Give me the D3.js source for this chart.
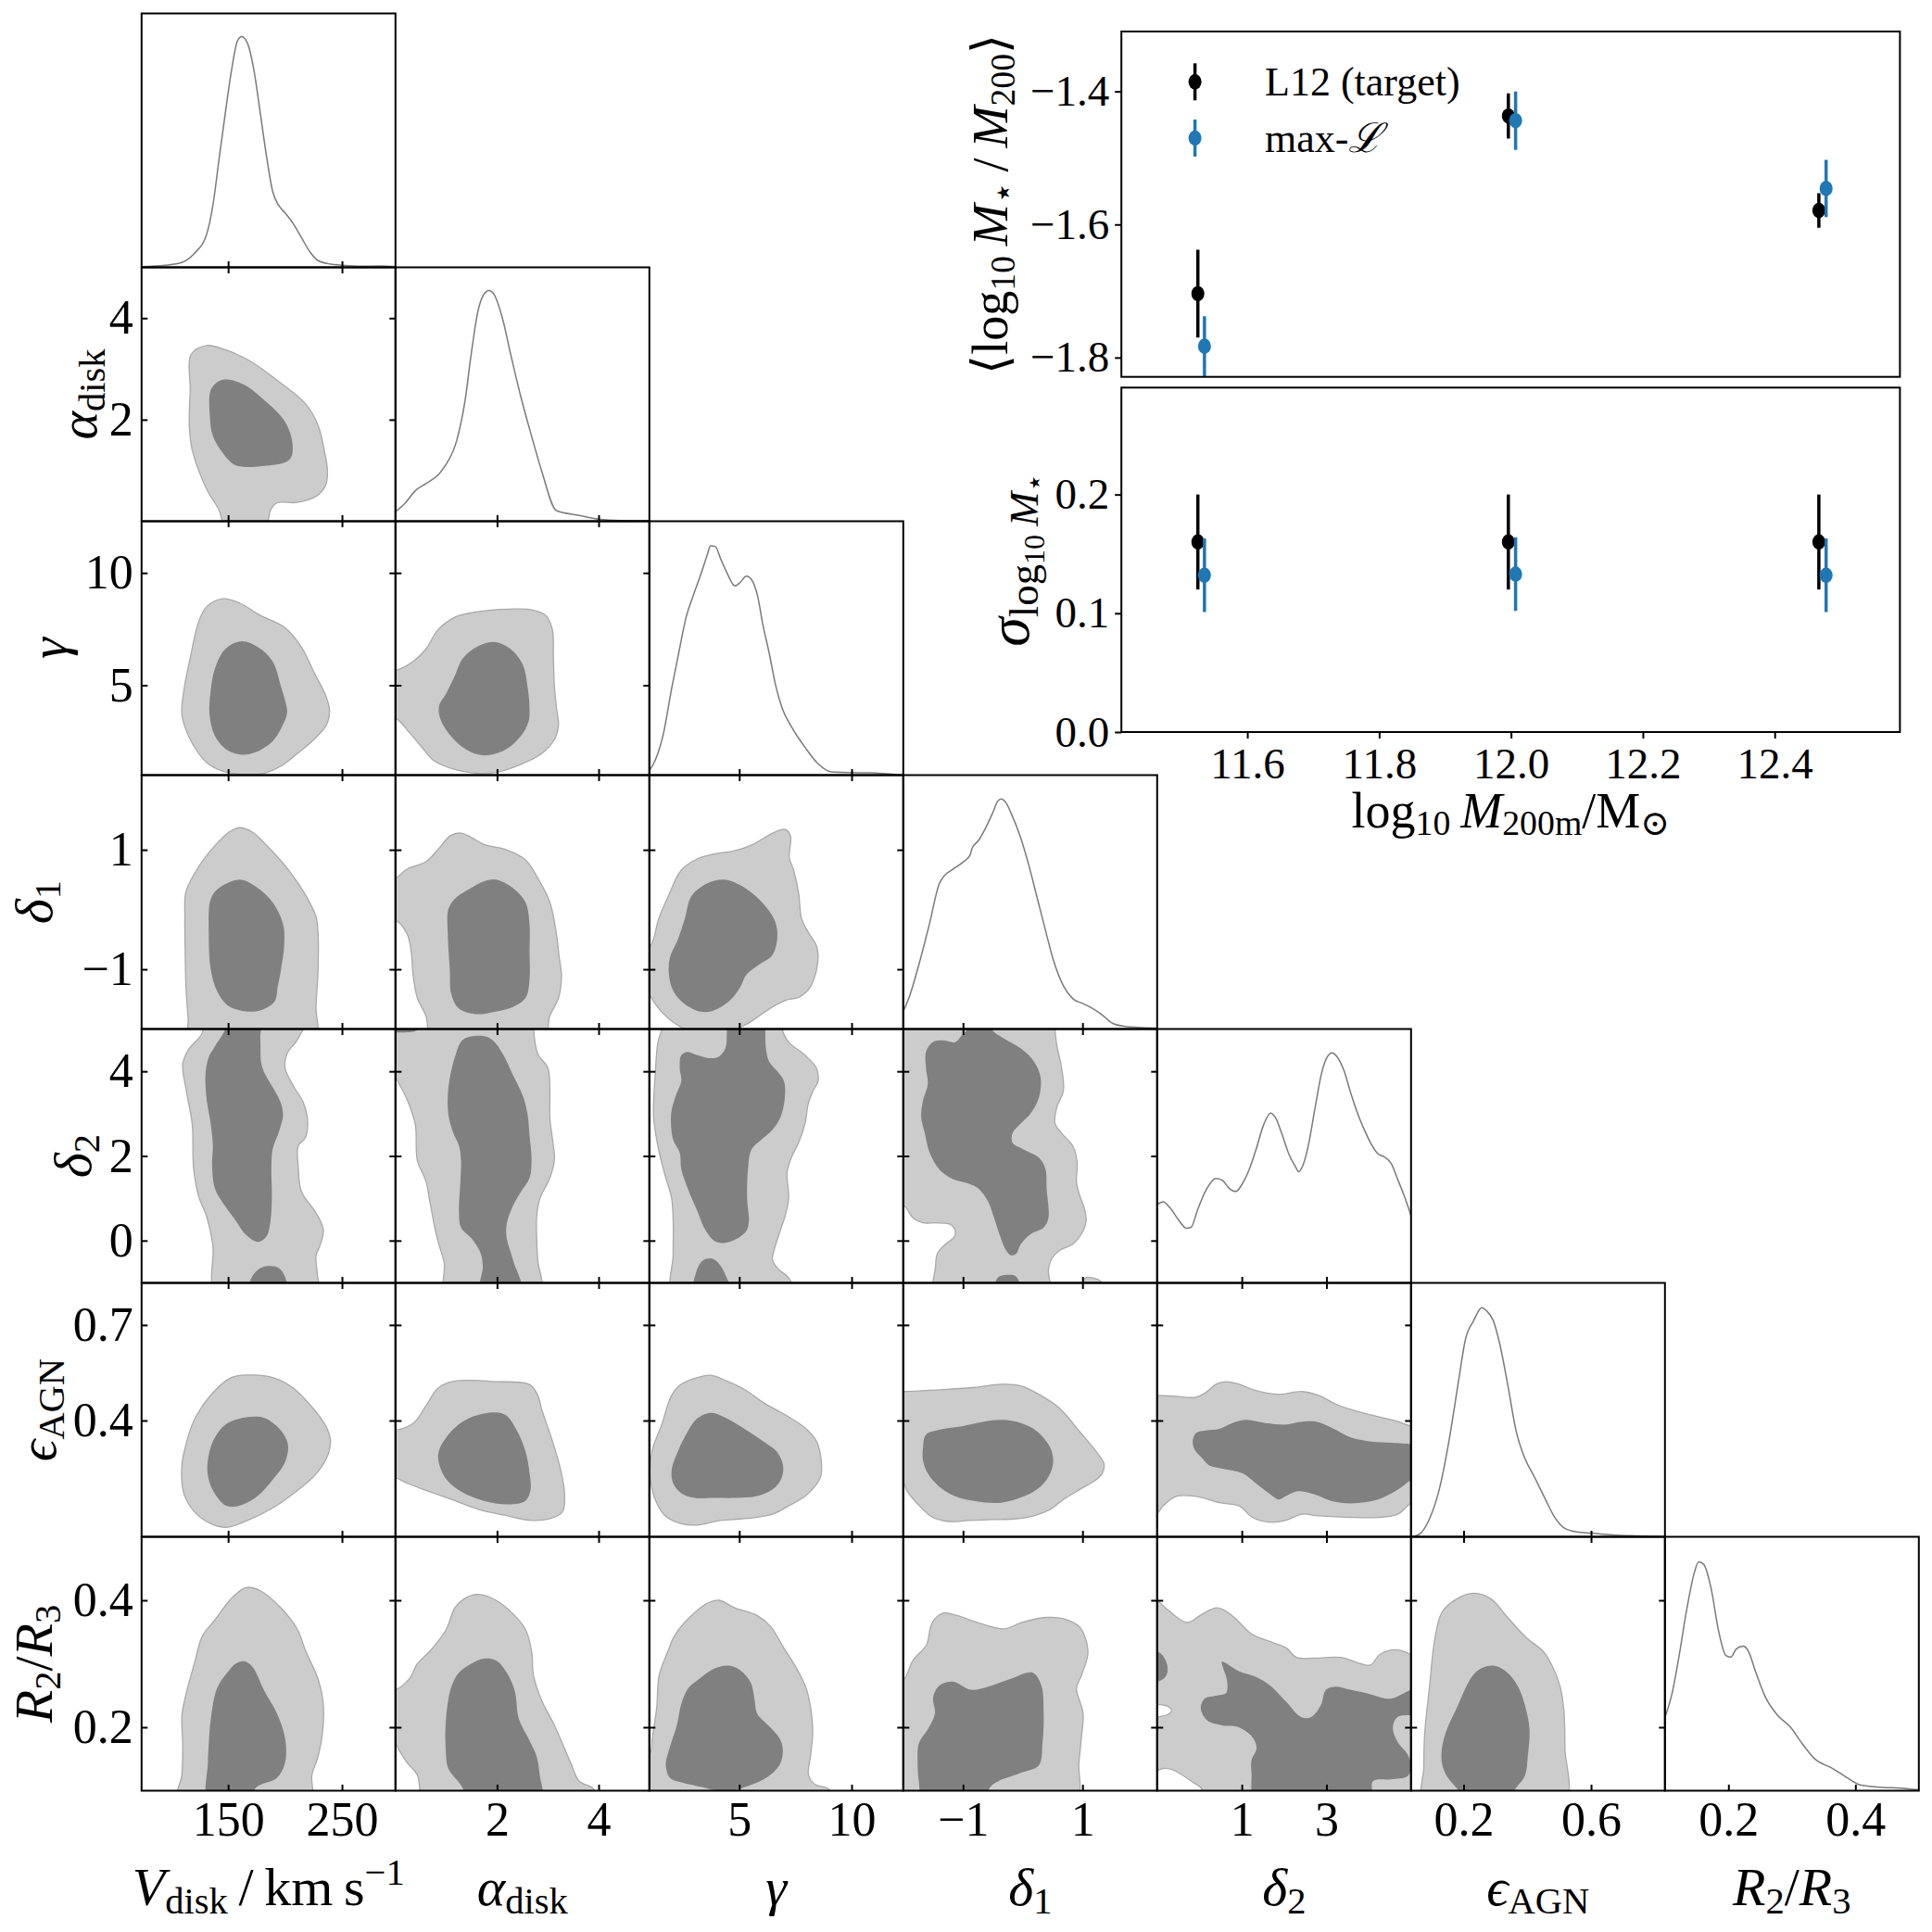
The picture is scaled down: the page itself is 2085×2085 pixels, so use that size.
<!DOCTYPE html>
<html><head><meta charset="utf-8">
<script src="https://cdn.jsdelivr.net/npm/d3@7"></script>
<style>
html,body{margin:0;padding:0;background:#fff;}
svg text{font-family:"Liberation Serif","DejaVu Serif",serif;white-space:pre;}
</style></head><body>
<svg id="c" width="2085" height="2085" xmlns="http://www.w3.org/2000/svg"></svg>
<script>
// ---------------- DATA ----------------
const params = ["Vdisk","alpha_disk","gamma","delta1","delta2","eps_AGN","R2_R3"];
const domains = [[74,297],[0,5],[1,12.3],[-2,2.25],[-1,5],[0.035,0.832],[0.1,0.5]];
const xTicks = [[150,250],[2,4],[5,10],[-1,1],[1,3],[0.2,0.6],[0.2,0.4]];
const yTicks = [null,[2,4],[5,10],[-1,1],[0,2,4],[0.4,0.7],[0.2,0.4]];
const tickFormats = ["d","d","d","d","d",".1f",".1f"];

// 1D marginals: [value, normalised density]
const M_V = [[73.9,0.003],[94.9,0.009],[109.4,0.021],[120.3,0.06],[131.2,0.144],[136.6,0.267],[142.0,0.467],[147.5,0.667],[152.9,0.851],[158.3,0.982],[162.0,1.0],[167.4,0.966],[172.8,0.851],[178.3,0.667],[183.7,0.482],[189.1,0.329],[194.6,0.267],[200.0,0.236],[207.2,0.189],[214.5,0.128],[221.7,0.068],[229.0,0.029],[239.9,0.014],[250.7,0.009],[265.2,0.005],[283.3,0.006],[296.7,0.003]];
const M_a = [[0.0,0.040],[0.19,0.078],[0.39,0.132],[0.60,0.163],[0.84,0.201],[1.00,0.247],[1.21,0.353],[1.37,0.522],[1.49,0.722],[1.62,0.906],[1.74,0.983],[1.84,1.0],[1.94,0.983],[2.11,0.876],[2.27,0.722],[2.47,0.538],[2.68,0.369],[2.88,0.217],[3.17,0.046],[3.62,0.025],[4.00,0.009],[4.43,0.003],[4.99,0.002]];
const M_g = [[1.01,0.021],[1.26,0.064],[1.62,0.177],[1.99,0.375],[2.28,0.516],[2.64,0.686],[2.93,0.772],[3.29,0.870],[3.58,0.955],[3.72,0.994],[3.94,0.990],[4.16,0.940],[4.45,0.877],[4.81,0.820],[5.03,0.834],[5.32,0.862],[5.54,0.848],[5.83,0.770],[6.04,0.657],[6.33,0.530],[6.62,0.389],[6.91,0.290],[7.35,0.205],[7.93,0.120],[8.51,0.049],[9.09,0.014],[10.0,0.011],[10.83,0.010],[12.29,0.0]];
const M_d1 = [[-1.99,0.082],[-1.89,0.146],[-1.73,0.287],[-1.56,0.457],[-1.40,0.627],[-1.32,0.662],[-1.18,0.690],[-0.99,0.725],[-0.88,0.754],[-0.85,0.782],[-0.74,0.817],[-0.63,0.867],[-0.50,0.938],[-0.42,0.987],[-0.36,0.997],[-0.28,0.980],[-0.20,0.938],[-0.03,0.825],[0.10,0.711],[0.24,0.570],[0.38,0.428],[0.51,0.301],[0.68,0.187],[0.84,0.131],[1.01,0.110],[1.17,0.089],[1.33,0.061],[1.50,0.025],[1.72,0.011],[1.93,0.007],[2.25,0.004]];
const M_d2 = [[-1.0,0.340],[-0.86,0.351],[-0.70,0.326],[-0.51,0.277],[-0.31,0.237],[-0.20,0.241],[-0.04,0.319],[0.16,0.404],[0.39,0.453],[0.55,0.443],[0.70,0.410],[0.86,0.396],[1.02,0.432],[1.17,0.489],[1.33,0.574],[1.52,0.687],[1.68,0.736],[1.80,0.715],[1.95,0.644],[2.11,0.559],[2.27,0.503],[2.34,0.482],[2.46,0.517],[2.58,0.602],[2.73,0.757],[2.89,0.912],[3.01,0.976],[3.13,0.997],[3.24,0.983],[3.40,0.927],[3.59,0.814],[3.75,0.728],[3.91,0.658],[4.06,0.601],[4.22,0.559],[4.38,0.545],[4.53,0.517],[4.69,0.446],[4.84,0.376],[5.0,0.291]];
const M_e = [[0.035,0.0],[0.061,0.011],[0.092,0.075],[0.123,0.202],[0.154,0.415],[0.185,0.683],[0.205,0.851],[0.231,0.935],[0.257,0.993],[0.272,0.979],[0.293,0.937],[0.313,0.838],[0.339,0.655],[0.365,0.457],[0.391,0.344],[0.422,0.260],[0.453,0.173],[0.484,0.089],[0.514,0.040],[0.556,0.021],[0.600,0.016],[0.669,0.008],[0.742,0.004],[0.829,0.001]];
const M_R = [[0.101,0.325],[0.111,0.419],[0.122,0.580],[0.134,0.780],[0.146,0.942],[0.153,0.992],[0.161,0.981],[0.173,0.873],[0.184,0.699],[0.196,0.586],[0.204,0.579],[0.212,0.613],[0.223,0.626],[0.231,0.607],[0.243,0.514],[0.258,0.407],[0.278,0.325],[0.297,0.278],[0.316,0.205],[0.336,0.138],[0.363,0.098],[0.386,0.058],[0.409,0.024],[0.440,0.015],[0.471,0.011],[0.500,0.004]];

// 2D credible-region outlines (light = outer level, dark = inner level), [x value, y value]
const L_a_V = [[117.4,3.28],[131.2,3.46],[145.7,3.39],[167.4,3.18],[196.4,2.72],[218.1,2.31],[229.0,1.89],[234.4,1.40],[237.3,0.98],[235.5,0.70],[227.2,0.49],[210.9,0.37],[192.8,0.36],[187.3,0.22],[181.9,-0.15],[148.6,-0.15],[142.0,0.22],[131.2,0.63],[118.5,1.40],[115.9,1.89],[116.7,2.59]];
const D_a_V = [[134.8,2.59],[142.0,2.76],[149.3,2.79],[163.8,2.69],[181.9,2.38],[200.0,1.96],[206.5,1.54],[205.4,1.26],[200.0,1.16],[181.9,1.09],[163.8,1.07],[154.7,1.12],[145.7,1.33],[136.6,1.68],[134.1,2.03]];
const L_g_V = [[123.9,7.79],[131.2,8.50],[145.7,8.85],[160.1,8.66],[178.3,8.11],[200.0,7.56],[214.5,6.69],[225.4,5.58],[236.2,4.48],[239.1,3.85],[236.2,3.22],[225.4,2.59],[210.9,1.96],[196.4,1.40],[181.9,1.09],[160.1,1.04],[145.7,1.17],[131.2,1.56],[116.7,2.59],[109.4,3.69],[111.2,4.79],[116.7,6.21]];
const D_g_V = [[138.4,5.74],[147.5,6.61],[162.0,6.96],[176.4,6.69],[189.1,6.06],[196.4,4.95],[200.0,4.32],[201.8,3.77],[196.4,3.06],[189.1,2.51],[174.6,2.03],[162.0,1.91],[149.3,2.11],[138.4,2.74],[133.7,3.69],[134.8,4.79]];
const L_g_a = [[-0.3,5.66],[0.0,5.66],[0.35,6.06],[0.60,6.61],[0.84,7.48],[1.17,8.03],[1.58,8.26],[2.23,8.39],[2.72,8.34],[2.96,8.11],[3.09,7.48],[3.11,6.21],[3.13,4.95],[3.17,4.01],[3.21,3.22],[3.13,2.59],[2.88,1.96],[2.47,1.48],[1.98,1.12],[1.58,1.09],[1.17,1.25],[0.76,1.64],[0.51,2.27],[0.27,2.90],[0.0,3.53],[-0.3,3.53]];
const D_g_a = [[1.00,4.64],[1.17,5.43],[1.33,6.21],[1.66,6.77],[1.98,6.92],[2.31,6.53],[2.51,5.90],[2.60,4.95],[2.64,4.01],[2.62,3.38],[2.47,2.74],[2.15,2.11],[1.74,1.88],[1.41,2.11],[1.09,2.74],[0.88,3.53],[0.86,4.09]];
const L_d1_V = [[112.0,-0.12],[113.0,0.30],[123.9,0.71],[138.4,1.07],[151.1,1.30],[160.1,1.37],[171.0,1.30],[185.5,1.04],[203.6,0.65],[218.1,0.24],[227.2,-0.12],[229.0,-0.41],[229.0,-1.01],[227.2,-1.60],[225.4,-2.31],[116.7,-2.31],[114.9,-1.83],[113.0,-1.30],[112.3,-0.71]];
const D_d1_V = [[134.8,0.18],[142.0,0.36],[160.1,0.50],[174.6,0.38],[189.1,0.12],[198.2,-0.24],[199.3,-0.59],[196.4,-1.01],[193.5,-1.30],[190.9,-1.54],[178.3,-1.69],[163.8,-1.70],[149.3,-1.60],[140.2,-1.36],[134.8,-1.01],[133.0,-0.41]];
const L_d1_a = [[-0.3,0.53],[0.0,0.53],[0.23,0.68],[0.60,0.80],[0.84,1.01],[1.09,1.24],[1.29,1.28],[1.49,1.21],[1.74,1.09],[2.15,1.01],[2.56,0.83],[2.80,0.53],[3.04,0.12],[3.17,-0.41],[3.22,-0.77],[3.27,-1.12],[3.21,-1.48],[3.04,-1.78],[2.88,-2.31],[0.76,-2.31],[0.60,-1.78],[0.43,-1.48],[0.35,-1.12],[0.31,-0.71],[0.23,-0.41],[0.0,-0.18],[-0.3,-0.18]];
const D_d1_a = [[1.04,0.0],[1.17,0.18],[1.49,0.36],[1.74,0.47],[1.98,0.50],[2.31,0.36],[2.56,0.12],[2.64,-0.24],[2.64,-0.71],[2.64,-1.18],[2.56,-1.48],[2.31,-1.63],[1.90,-1.72],[1.58,-1.75],[1.25,-1.66],[1.10,-1.42],[1.07,-1.01],[1.03,-0.41]];
const L_d1_g = [[1.84,0.22],[2.42,0.66],[3.14,0.85],[3.87,0.93],[4.74,0.98],[5.61,1.09],[6.48,1.28],[7.06,1.34],[7.28,1.23],[7.23,0.87],[7.42,0.66],[7.64,0.28],[7.78,-0.16],[8.07,-0.38],[8.43,-0.60],[8.51,-0.76],[8.43,-1.03],[8.14,-1.31],[7.64,-1.47],[7.06,-1.52],[6.48,-1.63],[6.04,-1.74],[5.32,-1.92],[4.45,-2.05],[3.58,-2.08],[2.71,-2.02],[1.84,-1.82],[1.26,-1.58],[0.9,-1.31],[0.9,-0.76],[1.19,-0.49],[1.41,-0.16]];
const D_d1_g = [[2.57,-0.16],[2.86,0.22],[3.43,0.41],[4.30,0.50],[5.17,0.38],[6.04,0.11],[6.55,-0.16],[6.70,-0.43],[6.48,-0.76],[5.90,-0.92],[5.32,-1.09],[5.03,-1.31],[4.59,-1.52],[3.87,-1.69],[3.29,-1.71],[2.57,-1.58],[2.06,-1.36],[1.87,-1.09],[1.91,-0.81],[2.28,-0.49]];
const L_d2_V = [[218.1,5.3],[210.9,4.75],[201.8,4.42],[200.0,4.08],[207.2,3.66],[216.3,3.25],[219.9,2.74],[217.4,2.41],[211.6,2.24],[211.6,1.74],[214.5,1.15],[225.4,0.73],[230.8,0.48],[233.7,0.23],[230.8,-0.11],[227.2,-0.36],[228.3,-0.78],[228.3,-1.3],[140.2,-1.3],[136.6,-0.11],[131.2,0.56],[123.9,1.06],[119.6,1.74],[118.5,2.74],[113.0,3.58],[110.1,4.17],[114.9,4.50],[127.5,4.92],[127.5,5.3]];
const D_d2_V = [[147.5,5.3],[147.5,5.01],[138.4,4.59],[133.0,4.34],[130.1,3.92],[131.2,3.33],[134.8,2.74],[136.6,2.24],[135.9,1.82],[138.4,1.23],[147.5,0.81],[156.5,0.48],[165.6,0.14],[176.4,-0.03],[183.7,0.10],[187.3,0.48],[188.4,1.06],[188.0,1.74],[189.1,2.16],[194.6,2.57],[198.2,2.95],[196.4,3.25],[191.0,3.54],[183.7,3.87],[179.3,4.17],[178.3,4.75],[177.2,5.3]];
const D_d2_V_b = [[167.4,-1.3],[171.0,-0.86],[178.3,-0.65],[187.3,-0.60],[194.6,-0.65],[200.0,-0.86],[201.8,-1.3]];
const L_d2_a = [[-0.3,5.3],[2.72,5.3],[2.72,5.01],[2.80,4.42],[3.00,4.08],[3.04,3.58],[3.04,2.91],[3.09,2.41],[3.13,1.90],[3.04,1.48],[2.84,0.98],[2.78,0.56],[2.78,0.06],[2.80,-0.44],[2.84,-1.3],[1.00,-1.3],[0.96,-0.53],[0.84,-0.03],[0.76,0.39],[0.68,0.90],[0.60,1.40],[0.43,1.90],[0.39,2.74],[0.23,3.33],[0.02,3.83],[0.0,3.92],[-0.3,3.92]];
const D_d2_a = [[1.17,4.34],[1.33,4.75],[1.66,4.84],[1.90,4.75],[2.11,4.42],[2.31,3.92],[2.51,3.41],[2.60,2.99],[2.64,2.49],[2.68,1.90],[2.64,1.48],[2.47,1.15],[2.31,0.81],[2.19,0.39],[2.19,0.06],[2.31,-0.44],[2.49,-1.3],[1.67,-1.3],[1.72,-0.61],[1.67,-0.28],[1.49,0.06],[1.29,0.31],[1.25,0.73],[1.27,1.23],[1.29,1.90],[1.25,2.24],[1.13,2.57],[1.04,2.99],[1.04,3.58]];
const D_d2_a_b = [[-0.3,5.3],[0.51,5.3],[0.43,4.98],[0.19,4.92],[0.0,4.92],[-0.3,4.92]];
const L_d2_g = [[1.55,5.3],[6.91,5.3],[6.91,5.0],[7.20,4.69],[7.93,4.38],[8.43,4.08],[8.51,3.77],[8.29,3.54],[8.07,3.23],[7.93,2.77],[7.64,2.31],[7.35,2.0],[7.13,1.62],[7.20,1.0],[7.06,0.62],[6.77,0.15],[6.55,-0.23],[6.48,-0.46],[6.77,-0.69],[7.20,-0.88],[7.42,-1.3],[2.10,-1.3],[2.06,-0.31],[2.06,0.46],[1.99,1.0],[1.70,1.54],[1.41,2.15],[1.19,2.92],[1.26,3.92],[1.38,4.69],[1.55,5.0]];
const D_d2_g = [[4.45,5.3],[4.45,5.0],[4.38,4.54],[4.09,4.35],[3.72,4.31],[3.14,4.38],[2.71,4.46],[2.42,4.38],[2.35,4.08],[2.42,3.77],[2.20,3.46],[1.99,3.08],[1.96,2.77],[2.06,2.38],[2.35,2.08],[2.42,1.69],[2.71,1.23],[3.14,0.69],[3.43,0.31],[3.87,0.0],[4.23,-0.06],[4.88,0.04],[5.32,0.23],[5.43,0.46],[5.35,1.0],[5.39,1.69],[5.54,2.15],[5.97,2.38],[6.48,2.62],[6.84,2.92],[7.03,3.38],[6.99,3.77],[6.70,4.0],[6.33,4.23],[6.19,4.54],[6.16,5.0],[6.16,5.3]];
const D_d2_g_b = [[3.0,-1.3],[3.07,-0.77],[3.36,-0.48],[3.75,-0.42],[4.09,-0.54],[4.42,-0.85],[4.67,-1.3]];
const L_d2_d1 = [[-2.15,5.3],[0.54,5.3],[0.54,5.0],[0.57,4.62],[0.65,4.08],[0.68,3.54],[0.57,3.15],[0.54,2.77],[0.65,2.54],[0.84,2.23],[0.91,1.85],[0.90,1.38],[0.95,1.08],[1.03,0.77],[1.06,0.46],[0.98,0.15],[0.84,-0.08],[0.62,-0.23],[0.49,-0.42],[0.43,-0.69],[0.43,-1.3],[-1.46,-1.3],[-1.46,-0.62],[-1.43,-0.31],[-1.29,-0.08],[-1.15,0.08],[-1.13,0.23],[-1.21,0.38],[-1.45,0.42],[-1.67,0.42],[-1.84,0.54],[-1.95,0.77],[-2.15,1.08]];
const L_d2_d1_b = [[1.01,-1.3],[1.04,-0.89],[1.17,-0.88],[1.31,-0.97],[1.34,-1.3]];
const D_d2_d1 = [[-1.62,4.46],[-1.51,4.69],[-1.34,4.73],[-1.13,4.69],[-1.02,4.85],[-0.93,5.0],[-0.93,5.3],[-0.52,5.3],[-0.52,5.0],[-0.31,4.77],[-0.03,4.54],[0.19,4.23],[0.30,3.85],[0.27,3.38],[0.13,3.0],[-0.03,2.77],[-0.17,2.54],[-0.17,2.31],[0.02,2.15],[0.27,1.96],[0.38,1.69],[0.40,1.23],[0.43,0.54],[0.35,0.31],[0.13,0.15],[-0.03,-0.08],[-0.11,-0.31],[-0.20,-0.35],[-0.28,-0.23],[-0.39,0.15],[-0.50,0.62],[-0.58,0.92],[-0.74,1.23],[-0.91,1.35],[-1.18,1.46],[-1.40,1.69],[-1.56,2.08],[-1.64,2.54],[-1.70,2.92],[-1.67,3.31],[-1.59,3.69],[-1.62,4.08]];
const D_d2_d1_b = [[-0.47,-1.3],[-0.42,-0.88],[-0.25,-0.81],[-0.11,-0.85],[-0.03,-1.3]];
const L_e_V = [[109.4,0.258],[113.0,0.325],[120.3,0.402],[134.8,0.480],[152.9,0.535],[171.0,0.543],[189.1,0.535],[207.2,0.502],[225.4,0.435],[236.2,0.380],[239.9,0.336],[236.2,0.280],[225.4,0.225],[207.2,0.170],[189.1,0.125],[167.4,0.087],[149.3,0.065],[134.8,0.076],[120.3,0.114],[111.2,0.170]];
const D_e_V = [[133.0,0.292],[138.4,0.347],[149.3,0.391],[167.4,0.411],[181.9,0.408],[196.4,0.369],[202.5,0.325],[200.0,0.269],[189.1,0.214],[174.6,0.159],[158.3,0.131],[147.5,0.134],[136.6,0.181],[131.9,0.236]];
const L_e_a = [[-0.3,0.369],[0.0,0.369],[0.35,0.391],[0.60,0.446],[0.84,0.502],[1.17,0.524],[1.98,0.522],[2.64,0.513],[2.80,0.480],[2.88,0.435],[3.09,0.336],[3.25,0.247],[3.33,0.170],[3.29,0.114],[3.04,0.092],[2.64,0.087],[2.15,0.103],[1.66,0.120],[1.09,0.153],[0.60,0.181],[0.23,0.203],[0.0,0.220],[-0.3,0.220]];
const D_e_a = [[0.84,0.292],[1.00,0.347],[1.33,0.397],[1.74,0.422],[2.15,0.419],[2.39,0.369],[2.56,0.303],[2.64,0.236],[2.66,0.181],[2.56,0.148],[2.23,0.137],[1.74,0.148],[1.25,0.181],[0.96,0.225]];
const L_e_g = [[1.04,0.223],[1.12,0.305],[1.55,0.387],[1.99,0.479],[2.42,0.514],[3.14,0.535],[3.72,0.542],[4.45,0.524],[5.32,0.494],[6.04,0.458],[7.06,0.417],[7.93,0.377],[8.43,0.336],[8.65,0.274],[8.62,0.223],[8.36,0.193],[7.93,0.162],[7.20,0.132],[6.48,0.106],[5.75,0.096],[5.03,0.091],[4.16,0.086],[3.14,0.072],[2.42,0.076],[1.70,0.101],[1.26,0.152]];
const D_e_g = [[1.99,0.244],[2.28,0.305],[2.71,0.366],[3.14,0.407],[3.72,0.424],[4.30,0.412],[5.17,0.377],[6.04,0.336],[6.70,0.300],[6.96,0.254],[6.84,0.213],[6.48,0.183],[5.75,0.162],[4.88,0.157],[3.87,0.157],[3.0,0.157],[2.42,0.172],[2.06,0.203]];
const L_e_d1 = [[-2.15,0.491],[-1.99,0.491],[-1.34,0.497],[-0.80,0.504],[-0.36,0.514],[-0.03,0.509],[0.30,0.479],[0.62,0.438],[0.95,0.366],[1.22,0.305],[1.36,0.264],[1.33,0.234],[1.22,0.213],[0.95,0.183],[0.68,0.152],[0.46,0.121],[0.19,0.101],[-0.14,0.091],[-0.52,0.089],[-0.91,0.086],[-1.23,0.083],[-1.51,0.096],[-1.78,0.142],[-1.95,0.183],[-1.99,0.203],[-2.15,0.203]];
const D_e_d1 = [[-1.67,0.315],[-1.62,0.356],[-1.40,0.371],[-1.02,0.382],[-0.69,0.395],[-0.36,0.402],[-0.03,0.392],[0.24,0.366],[0.46,0.315],[0.51,0.274],[0.46,0.234],[0.30,0.193],[0.02,0.162],[-0.36,0.142],[-0.80,0.147],[-1.13,0.162],[-1.40,0.193],[-1.59,0.234],[-1.67,0.274]];
const L_e_d2 = [[-1.2,0.479],[-1.02,0.479],[-0.63,0.477],[-0.08,0.473],[0.16,0.489],[0.39,0.514],[0.63,0.522],[0.94,0.514],[1.33,0.494],[1.88,0.482],[2.42,0.491],[2.81,0.479],[3.28,0.448],[3.75,0.428],[4.22,0.412],[4.69,0.397],[5.02,0.382],[5.2,0.382],[5.2,0.142],[5.02,0.142],[4.69,0.106],[4.22,0.096],[3.59,0.096],[2.81,0.101],[2.42,0.106],[2.03,0.086],[1.64,0.081],[1.25,0.096],[0.94,0.132],[0.47,0.142],[-0.08,0.162],[-0.55,0.162],[-0.86,0.132],[-1.02,0.106],[-1.2,0.106]];
const D_e_d2 = [[-0.16,0.336],[-0.08,0.361],[0.16,0.369],[0.47,0.374],[0.78,0.392],[1.09,0.402],[1.56,0.392],[2.03,0.387],[2.34,0.395],[2.73,0.397],[3.13,0.377],[3.59,0.346],[4.06,0.334],[4.53,0.330],[5.02,0.326],[5.2,0.326],[5.2,0.213],[5.02,0.213],[4.69,0.183],[4.22,0.152],[3.59,0.140],[3.13,0.147],[2.73,0.167],[2.34,0.178],[2.03,0.162],[1.88,0.152],[1.64,0.172],[1.33,0.203],[1.02,0.234],[0.55,0.249],[0.23,0.259],[0.04,0.285],[-0.12,0.310]];
const L_R_V = [[105.8,0.08],[109.4,0.125],[110.1,0.174],[109.4,0.218],[113.0,0.252],[120.3,0.300],[127.5,0.344],[138.4,0.369],[152.9,0.403],[165.6,0.420],[178.3,0.415],[196.4,0.388],[210.9,0.354],[218.1,0.320],[229.0,0.276],[233.3,0.242],[233.3,0.198],[229.0,0.154],[223.6,0.125],[221.7,0.08]];
const D_R_V = [[133.0,0.08],[132.2,0.144],[133.0,0.174],[134.8,0.213],[140.2,0.261],[149.3,0.286],[156.5,0.300],[163.8,0.304],[171.0,0.296],[181.9,0.257],[192.8,0.222],[200.0,0.183],[200.0,0.144],[192.8,0.120],[174.6,0.105],[167.4,0.08]];
const L_R_a = [[-0.3,0.259],[0.0,0.259],[0.27,0.276],[0.43,0.300],[0.68,0.320],[1.00,0.354],[1.17,0.388],[1.41,0.405],[1.66,0.409],[1.98,0.400],[2.31,0.379],[2.56,0.354],[2.68,0.320],[2.72,0.281],[2.88,0.242],[3.13,0.203],[3.29,0.174],[3.45,0.144],[3.62,0.115],[3.90,0.103],[3.94,0.08],[0.60,0.08],[0.43,0.125],[0.23,0.144],[0.07,0.164],[0.0,0.174],[-0.3,0.174]];
const D_R_a = [[0.99,0.164],[0.99,0.208],[1.09,0.261],[1.25,0.286],[1.49,0.300],[1.74,0.308],[1.98,0.305],[2.19,0.286],[2.35,0.257],[2.43,0.213],[2.64,0.179],[2.78,0.154],[2.84,0.125],[2.87,0.08],[1.58,0.08],[1.25,0.113],[1.04,0.135]];
const L_R_g = [[0.6,0.154],[1.03,0.159],[1.13,0.183],[1.33,0.232],[1.43,0.281],[1.83,0.320],[2.12,0.344],[2.82,0.374],[3.61,0.396],[4.11,0.400],[4.80,0.388],[5.79,0.376],[6.39,0.359],[6.98,0.325],[7.58,0.291],[7.98,0.261],[8.17,0.232],[8.27,0.193],[8.17,0.154],[8.08,0.125],[8.37,0.110],[8.97,0.103],[9.27,0.08],[0.6,0.08]];
const D_R_g = [[1.73,0.140],[1.83,0.159],[2.22,0.203],[2.42,0.237],[2.72,0.261],[3.21,0.276],[3.81,0.291],[4.50,0.297],[5.0,0.291],[5.50,0.271],[5.69,0.242],[5.79,0.222],[6.29,0.203],[6.79,0.183],[6.94,0.164],[6.79,0.140],[6.19,0.120],[5.20,0.105],[4.40,0.098],[3.41,0.105],[2.42,0.113],[1.92,0.120]];
const L_R_d1 = [[-2.15,0.276],[-1.99,0.276],[-1.84,0.305],[-1.61,0.330],[-1.54,0.359],[-1.47,0.371],[-1.32,0.380],[-1.10,0.376],[-0.73,0.364],[-0.32,0.355],[0.01,0.366],[0.39,0.373],[0.68,0.371],[0.94,0.359],[1.05,0.340],[1.09,0.315],[0.98,0.281],[0.90,0.261],[1.01,0.222],[0.98,0.183],[0.94,0.144],[0.87,0.08],[-2.15,0.08]];
const D_R_d1 = [[-1.76,0.144],[-1.74,0.174],[-1.58,0.198],[-1.47,0.222],[-1.50,0.247],[-1.39,0.266],[-1.17,0.272],[-0.87,0.259],[-0.58,0.264],[-0.21,0.276],[0.16,0.286],[0.31,0.266],[0.35,0.222],[0.33,0.174],[0.27,0.140],[-0.06,0.127],[-0.50,0.110],[-0.73,0.08],[-1.65,0.08],[-1.74,0.115]];
const L_R_d2 = [[-1.2,0.4],[-1.02,0.4],[-0.75,0.385],[-0.29,0.365],[0.06,0.378],[0.42,0.388],[0.77,0.376],[1.23,0.347],[1.70,0.334],[2.05,0.325],[2.29,0.310],[2.75,0.309],[3.34,0.310],[3.81,0.300],[4.04,0.298],[4.27,0.315],[4.63,0.322],[4.92,0.317],[5.02,0.313],[5.2,0.313],[5.2,0.08],[0.06,0.08],[0.06,0.102],[-0.17,0.114],[-0.64,0.133],[-0.87,0.135],[-1.02,0.131],[-1.2,0.131]];
const H_R_d2 = [[-1.2,0.235],[-1.02,0.236],[-0.75,0.233],[-0.66,0.226],[-0.75,0.220],[-1.02,0.216],[-1.2,0.216]];
const D_R_d2_a = [[-1.2,0.320],[-1.02,0.320],[-0.87,0.313],[-0.75,0.293],[-0.81,0.279],[-1.02,0.271],[-1.2,0.271]];
const D_R_d2 = [[0.53,0.303],[0.94,0.288],[1.35,0.279],[1.70,0.264],[2.05,0.240],[2.40,0.216],[2.64,0.216],[2.87,0.235],[2.99,0.259],[3.22,0.264],[3.57,0.259],[4.04,0.252],[4.51,0.245],[5.02,0.259],[5.2,0.259],[5.2,0.220],[5.02,0.219],[4.68,0.216],[4.57,0.199],[4.68,0.177],[4.92,0.157],[5.0,0.138],[4.92,0.123],[4.51,0.118],[4.10,0.115],[4.04,0.08],[1.35,0.08],[1.23,0.128],[1.23,0.148],[1.35,0.167],[1.23,0.186],[0.88,0.201],[0.53,0.203],[0.18,0.211],[0.03,0.230],[0.12,0.245],[0.42,0.250],[0.63,0.254],[0.65,0.274],[0.56,0.293]];
const L_R_e = [[0.078,0.08],[0.075,0.138],[0.078,0.191],[0.093,0.264],[0.109,0.337],[0.132,0.381],[0.178,0.402],[0.232,0.411],[0.286,0.402],[0.333,0.376],[0.395,0.342],[0.449,0.320],[0.472,0.303],[0.503,0.264],[0.515,0.225],[0.518,0.167],[0.515,0.08]];
const D_R_e = [[0.132,0.167],[0.147,0.196],[0.178,0.230],[0.225,0.279],[0.256,0.293],[0.294,0.297],[0.333,0.288],[0.371,0.264],[0.395,0.230],[0.407,0.196],[0.402,0.157],[0.392,0.123],[0.364,0.104],[0.333,0.08],[0.209,0.08],[0.178,0.104],[0.147,0.123],[0.132,0.143]];

// Inset data
const haloMass_L12 = [11.525, 11.996, 12.467];
const haloMass_maxL = [11.535, 12.007, 12.478];
const meanRatio_L12 = [-1.704, -1.437, -1.579];
const meanRatioErr_L12 = [0.066, 0.034, 0.026];
const meanRatio_maxL = [-1.783, -1.444, -1.546];
const meanRatioErr_maxL = [0.045, 0.044, 0.043];
const scatter_L12 = [0.16, 0.16, 0.16];
const scatterErr_L12 = [0.04, 0.04, 0.04];
const scatter_maxL = [0.132, 0.133, 0.132];
const scatterErr_maxL = [0.031, 0.031, 0.031];
const insetXTicks = [11.6, 11.8, 12.0, 12.2, 12.4];
const insetTopTicks = [-1.8, -1.6, -1.4];
const insetBotTicks = [0.0, 0.1, 0.2];
const legendLabels = ["L12 (target)", "max-"];

// ---------------- DRAWING ----------------
const svg = d3.select("#c");
svg.append("rect").attr("width",2085).attr("height",2085).attr("fill","#fff");
const defs = svg.append("defs");
const X0 = 152.8, Y0 = 14.5, S = 274, NP = 7;
const FONT = '"Liberation Serif","DejaVu Serif",serif';
const xs = j => d3.scaleLinear().domain(domains[j]).range([X0 + j*S, X0 + (j+1)*S]);
const ys = i => d3.scaleLinear().domain(domains[i]).range([Y0 + (i+1)*S, Y0 + i*S]);

const marginals = [M_V, M_a, M_g, M_d1, M_d2, M_e, M_R];
const panels2D = [
  {r:1,c:0,light:[L_a_V],dark:[D_a_V]},
  {r:2,c:0,light:[L_g_V],dark:[D_g_V]},
  {r:2,c:1,light:[L_g_a],dark:[D_g_a]},
  {r:3,c:0,light:[L_d1_V],dark:[D_d1_V]},
  {r:3,c:1,light:[L_d1_a],dark:[D_d1_a]},
  {r:3,c:2,light:[L_d1_g],dark:[D_d1_g]},
  {r:4,c:0,light:[L_d2_V],dark:[D_d2_V,D_d2_V_b]},
  {r:4,c:1,light:[L_d2_a],dark:[D_d2_a,D_d2_a_b]},
  {r:4,c:2,light:[L_d2_g],dark:[D_d2_g,D_d2_g_b]},
  {r:4,c:3,light:[L_d2_d1,L_d2_d1_b],dark:[D_d2_d1,D_d2_d1_b]},
  {r:5,c:0,light:[L_e_V],dark:[D_e_V]},
  {r:5,c:1,light:[L_e_a],dark:[D_e_a]},
  {r:5,c:2,light:[L_e_g],dark:[D_e_g]},
  {r:5,c:3,light:[L_e_d1],dark:[D_e_d1]},
  {r:5,c:4,light:[L_e_d2],dark:[D_e_d2]},
  {r:6,c:0,light:[L_R_V],dark:[D_R_V]},
  {r:6,c:1,light:[L_R_a],dark:[D_R_a]},
  {r:6,c:2,light:[L_R_g],dark:[D_R_g]},
  {r:6,c:3,light:[L_R_d1],dark:[D_R_d1]},
  {r:6,c:4,light:[L_R_d2],holes:[H_R_d2],dark:[D_R_d2,D_R_d2_a]},
  {r:6,c:5,light:[L_R_e],dark:[D_R_e]}
];

function clipFor(r,c){
  const id = `clip_${r}_${c}`;
  defs.append("clipPath").attr("id",id).append("rect")
    .attr("x",X0+c*S).attr("y",Y0+r*S).attr("width",S).attr("height",S);
  return `url(#${id})`;
}

// 2D panels
panels2D.forEach(p => {
  const x = xs(p.c), y = ys(p.r);
  const g = svg.append("g").attr("clip-path", clipFor(p.r,p.c));
  const line = d3.line().x(d=>x(d[0])).y(d=>y(d[1])).curve(d3.curveCatmullRomClosed.alpha(0.5));
  p.light.forEach(poly => g.append("path").attr("d",line(poly)).attr("fill","#cccccc").attr("stroke","#a9a9a9").attr("stroke-width",1.3));
  (p.holes||[]).forEach(poly => g.append("path").attr("d",line(poly)).attr("fill","#ffffff").attr("stroke","#a9a9a9").attr("stroke-width",1.3));
  p.dark.forEach(poly => g.append("path").attr("d",line(poly)).attr("fill","#808080"));
});

// diagonal marginals
marginals.forEach((m,i) => {
  const x = xs(i);
  const y = d3.scaleLinear().domain([0,1.1]).range([Y0+(i+1)*S, Y0+i*S]);
  const g = svg.append("g").attr("clip-path", clipFor(i,i));
  g.append("path").attr("d", d3.line().x(d=>x(d[0])).y(d=>y(d[1])).curve(d3.curveMonotoneX)(m))
    .attr("fill","none").attr("stroke","#7a7a7a").attr("stroke-width",1.5);
});

// frames & axes
const TK = 6.5;
function styleAxis(sel, fs){
  sel.select(".domain").remove();
  sel.selectAll(".tick line").attr("stroke","#000").attr("stroke-width",2);
  sel.selectAll(".tick text").attr("fill","#000").attr("font-family",FONT).attr("font-size",fs);
  sel.attr("font-family",FONT);
}
for (let i=0;i<NP;i++){
  for (let j=0;j<=i;j++){
    const x = xs(j), y = ys(i);
    const left = X0+j*S, right = X0+(j+1)*S, top = Y0+i*S, bottom = Y0+(i+1)*S;
    const fmtX = d3.format(tickFormats[j]);
    const ab = d3.axisBottom(x).tickValues(xTicks[j]).tickSizeInner(-TK).tickSizeOuter(0).tickPadding(11.5)
      .tickFormat(i===NP-1 ? fmtX : ()=>"");
    svg.append("g").attr("transform",`translate(0,${bottom})`).call(ab).call(s=>styleAxis(s,52));
    if (i>j){
      const fmtY = d3.format(tickFormats[i]);
      svg.append("g").attr("transform",`translate(0,${top})`)
        .call(d3.axisTop(x).tickValues(xTicks[j]).tickSizeInner(-TK).tickSizeOuter(0).tickFormat(()=>""))
        .call(s=>styleAxis(s,52));
      svg.append("g").attr("transform",`translate(${left},0)`)
        .call(d3.axisLeft(y).tickValues(yTicks[i]).tickSizeInner(-TK).tickSizeOuter(0).tickPadding(9)
          .tickFormat(j===0 ? fmtY : ()=>""))
        .call(s=>styleAxis(s,52));
      svg.append("g").attr("transform",`translate(${right},0)`)
        .call(d3.axisRight(y).tickValues(yTicks[i]).tickSizeInner(-TK).tickSizeOuter(0).tickFormat(()=>""))
        .call(s=>styleAxis(s,52));
    }
    svg.append("rect").attr("x",left).attr("y",top).attr("width",S).attr("height",S)
      .attr("fill","none").attr("stroke","#000").attr("stroke-width",2);
  }
}

// rich text helper
function rich(sel, parts, size){
  let shift = 0;
  parts.forEach(p => {
    let target = 0, fs = size;
    if (p.sub===1){ target = 0.15*size; fs = 0.7*size; }
    else if (p.sub===2){ target = 0.26*size; fs = 0.5*size; }
    else if (p.sup){ target = -0.38*size; fs = 0.7*size; }
    sel.append("tspan").text(p.t).attr("dy", target - shift).attr("font-size", fs)
      .attr("font-style", p.it ? "italic" : "normal");
    shift = target;
  });
}
const axisLabels = [
  [{t:"V",it:true},{t:"disk",sub:1},{t:"\u2009/\u2009km\u2009s"},{t:"\u22121",sup:true}],
  [{t:"\u03B1",it:true},{t:"disk",sub:1}],
  [{t:"\u03B3",it:true}],
  [{t:"\u03B4",it:true},{t:"1",sub:1}],
  [{t:"\u03B4",it:true},{t:"2",sub:1}],
  [{t:"\u03F5",it:true},{t:"AGN",sub:1}],
  [{t:"R",it:true},{t:"2",sub:1},{t:"/"},{t:"R",it:true},{t:"3",sub:1}]
];
const yLabelBaseX = [null,104,72,56,98,60,56];
const LFS = 58;
for (let j=0;j<NP;j++){
  const t = svg.append("text").attr("x",X0+(j+0.5)*S).attr("y",2056).attr("text-anchor","middle")
    .attr("font-size",LFS).attr("font-family",FONT);
  rich(t, axisLabels[j], LFS);
}
for (let i=1;i<NP;i++){
  const t = svg.append("text").attr("text-anchor","middle").attr("font-size",LFS).attr("font-family",FONT)
    .attr("transform",`translate(${yLabelBaseX[i]},${Y0+(i+0.5)*S}) rotate(-90)`);
  rich(t, axisLabels[i], LFS);
}

// ---------------- INSET ----------------
const IX0 = 1210.2, IX1 = 2050.4;
const ix = d3.scaleLinear().domain([11.409,12.59]).range([IX0,IX1]);
const iyT = d3.scaleLinear().domain([-1.829,-1.31]).range([406.7,34]);
const iyB = d3.scaleLinear().domain([0,0.29]).range([790,418.3]);
const IFS = 47;
function insetFrame(yScale, ticks, id){
  const [b,t] = yScale.range();
  defs.append("clipPath").attr("id",id).append("rect").attr("x",IX0).attr("y",t).attr("width",IX1-IX0).attr("height",b-t);
  svg.append("g").attr("transform",`translate(${IX0},0)`)
    .call(d3.axisLeft(yScale).tickValues(ticks).tickSizeInner(7).tickSizeOuter(0).tickPadding(6).tickFormat(d3.format(".1f")))
    .call(s=>styleAxis(s,IFS));
  return [t,b];
}
const [tT,tB] = insetFrame(iyT, insetTopTicks, "clipTop");
const [bT,bB] = insetFrame(iyB, insetBotTicks, "clipBot");
svg.append("g").attr("transform",`translate(0,${bB})`)
  .call(d3.axisBottom(ix).tickValues(insetXTicks).tickSizeInner(7).tickSizeOuter(0).tickPadding(9.6).tickFormat(d3.format(".1f")))
  .call(s=>styleAxis(s,IFS));

function errSeries(clip, xv, yv, ev, yScale, color){
  const g = svg.append("g").attr("clip-path",`url(#${clip})`);
  xv.forEach((xx,k)=>{
    g.append("line").attr("x1",ix(xx)).attr("x2",ix(xx)).attr("y1",yScale(yv[k]-ev[k])).attr("y2",yScale(yv[k]+ev[k]))
      .attr("stroke",color).attr("stroke-width",3.5);
    g.append("ellipse").attr("cx",ix(xx)).attr("cy",yScale(yv[k])).attr("rx",7).attr("ry",8.3).attr("fill",color);
  });
}
const C_BLACK = "#000000", C_BLUE = "#1f77b4";
errSeries("clipTop", haloMass_L12, meanRatio_L12, meanRatioErr_L12, iyT, C_BLACK);
errSeries("clipTop", haloMass_maxL, meanRatio_maxL, meanRatioErr_maxL, iyT, C_BLUE);
errSeries("clipBot", haloMass_L12, scatter_L12, scatterErr_L12, iyB, C_BLACK);
errSeries("clipBot", haloMass_maxL, scatter_maxL, scatterErr_maxL, iyB, C_BLUE);

[[tT,tB],[bT,bB]].forEach(([t,b])=>{
  svg.append("rect").attr("x",IX0).attr("y",t).attr("width",IX1-IX0).attr("height",b-t)
    .attr("fill","none").attr("stroke","#000").attr("stroke-width",2);
});

// legend
[[C_BLACK,88.3,103],[C_BLUE,149,164]].forEach(([col,cy,by],k)=>{
  svg.append("line").attr("x1",1289.6).attr("x2",1289.6).attr("y1",cy-20).attr("y2",cy+20).attr("stroke",col).attr("stroke-width",3.5);
  svg.append("ellipse").attr("cx",1289.6).attr("cy",cy).attr("rx",7).attr("ry",8.3).attr("fill",col);
  const t = svg.append("text").attr("x",1365).attr("y",by).attr("font-size",44).attr("font-family",FONT);
  if (k===0) rich(t,[{t:legendLabels[0]}],44);
  else rich(t,[{t:legendLabels[1]},{t:"\u2112",it:true}],44);
});

// inset axis labels
const tx = svg.append("text").attr("x",(IX0+IX1)/2).attr("y",893).attr("text-anchor","middle").attr("font-size",54).attr("font-family",FONT);
rich(tx,[{t:"log"},{t:"10",sub:1},{t:"\u2009"},{t:"M",it:true},{t:"200m",sub:1},{t:"/M"},{t:"\u2299",sub:1}],54);
const ty1 = svg.append("text").attr("text-anchor","middle").attr("font-size",54).attr("font-family",FONT)
  .attr("transform",`translate(1087,${(tT+tB)/2}) rotate(-90)`);
rich(ty1,[{t:"\u27E8log"},{t:"10",sub:1},{t:"\u2009"},{t:"M",it:true},{t:"\u22C6",sub:1},{t:"\u2009/\u2009"},{t:"M",it:true},{t:"200",sub:1},{t:"\u27E9"}],54);
const ty2 = svg.append("text").attr("text-anchor","middle").attr("font-size",64).attr("font-family",FONT)
  .attr("transform",`translate(1110,${(bT+bB)/2}) rotate(-90)`);
rich(ty2,[{t:"\u03C3",it:true},{t:"log",sub:1},{t:"10",sub:2},{t:"\u2009",sub:1},{t:"M",it:true,sub:1},{t:"\u22C6",sub:2}],64);
</script>
</body></html>
